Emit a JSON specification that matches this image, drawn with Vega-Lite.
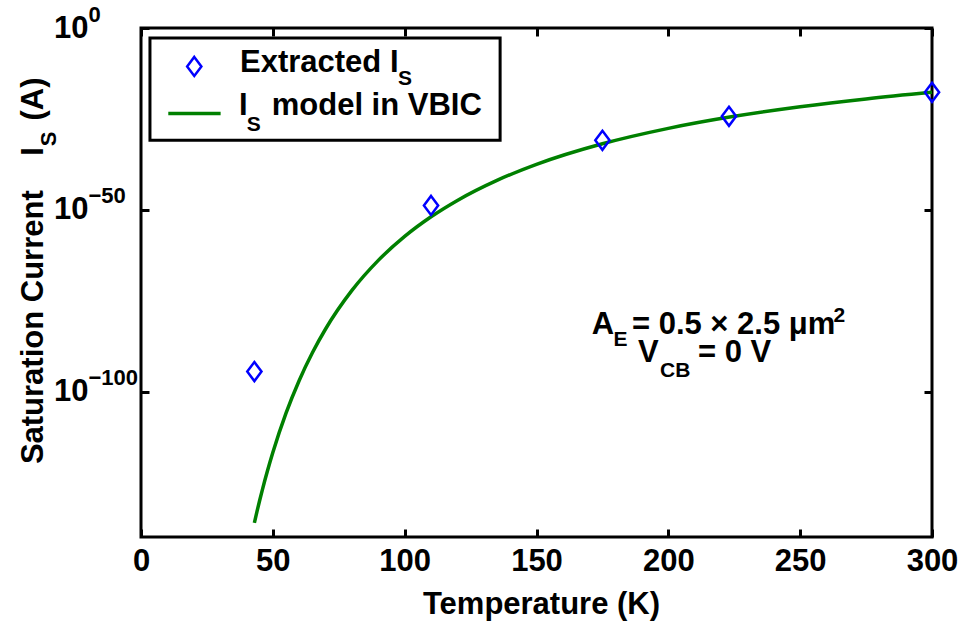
{
  "$schema": "https://vega.github.io/schema/vega-lite/v6.json",
  "width": 791,
  "height": 509,
  "autosize": {"type": "none"},
  "padding": {"left": 141, "top": 28, "right": 31, "bottom": 97},
  "background": "white",
  "config": {
    "view": {"stroke": "black", "strokeWidth": 3},
    "font": "Liberation Sans",
    "axis": {
      "grid": false,
      "domain": false,
      "ticks": true,
      "tickColor": "black",
      "tickWidth": 3,
      "tickSize": -8,
      "labelFlush": false,
      "labelOverlap": false,
      "labelFont": "Liberation Sans",
      "labelFontWeight": "bold",
      "labelFontSize": 31,
      "labelColor": "black",
      "titleFont": "Liberation Sans",
      "titleFontWeight": "bold",
      "titleFontSize": 31,
      "titleColor": "black"
    }
  },
  "datasets": {
    "model": [
      {"T": 43, "Is": 7.94e-137},
      {"T": 44, "Is": 1.10e-133},
      {"T": 45, "Is": 1.10e-130},
      {"T": 46, "Is": 8.13e-128},
      {"T": 47, "Is": 4.57e-125},
      {"T": 48, "Is": 2.0e-122},
      {"T": 50, "Is": 1.78e-117},
      {"T": 55, "Is": 1.15e-106},
      {"T": 60, "Is": 1.15e-97},
      {"T": 65, "Is": 4.79e-90},
      {"T": 70, "Is": 1.62e-83},
      {"T": 80, "Is": 6.61e-73},
      {"T": 90, "Is": 1.20e-64},
      {"T": 100, "Is": 4.79e-58},
      {"T": 110, "Is": 1.20e-52},
      {"T": 120, "Is": 3.80e-48},
      {"T": 135, "Is": 1.23e-42},
      {"T": 150, "Is": 3.09e-38},
      {"T": 175, "Is": 1.41e-32},
      {"T": 200, "Is": 2.45e-28},
      {"T": 225, "Is": 5.01e-25},
      {"T": 250, "Is": 2.19e-22},
      {"T": 275, "Is": 3.16e-20},
      {"T": 300, "Is": 2.0e-18}
    ],
    "extracted": [
      {"T": 43, "Is": 3.16e-95},
      {"T": 110, "Is": 1.58e-49},
      {"T": 175, "Is": 1.26e-31},
      {"T": 223, "Is": 5.01e-25},
      {"T": 300, "Is": 2.0e-18}
    ],
    "legendBox": [
      {"T1": 3.4, "T2": 136.2, "I1": 1.74e-3, "I2": 1.35e-31}
    ],
    "legendLine": [
      {"T": 10.35, "Is": 3.16e-24},
      {"T": 30.2, "Is": 3.16e-24}
    ],
    "legendMarker": [
      {"T": 20.2, "Is": 2.75e-11}
    ],
    "notes": [
      {"T": 37.55, "Is": 9.1e-13, "text": "Extracted I"},
      {"T": 37.17, "Is": 1.05e-24, "text": "I"},
      {"T": 49.57, "Is": 1.05e-24, "text": "model in VBIC"},
      {"T": 170.93, "Is": 7.08e-85, "text": "A"},
      {"T": 186.2, "Is": 7.08e-85, "text": "= 0.5 × 2.5 μm"},
      {"T": 188.49, "Is": 1.05e-92, "text": "V"},
      {"T": 211.25, "Is": 1.05e-92, "text": "= 0 V"}
    ],
    "scripts": [
      {"T": 97.47, "Is": 1.95e-16, "text": "S"},
      {"T": 40.09, "Is": 4.9e-29, "text": "S"},
      {"T": 179.2, "Is": 4.17e-88, "text": "E"},
      {"T": 262.6, "Is": 1.12e-81, "text": "2"},
      {"T": 196.84, "Is": 1.2e-96, "text": "CB"}
    ]
  },
  "layer": [
    {
      "data": {"name": "model"},
      "mark": {"type": "line", "color": "#008000", "strokeWidth": 3.5, "interpolate": "monotone"},
      "encoding": {
        "x": {
          "field": "T", "type": "quantitative",
          "scale": {"domain": [0, 300], "nice": false, "zero": false},
          "axis": {
            "orient": "bottom",
            "values": [0, 50, 100, 150, 200, 250, 300],
            "labelPadding": 17,
            "labelBaseline": "top",
            "title": "Temperature (K)",
            "titleX": 400,
            "titleY": 76,
            "titleAlign": "center",
            "titleBaseline": "alphabetic"
          }
        },
        "y": {
          "field": "Is", "type": "quantitative",
          "scale": {"type": "log", "domain": [1e-140, 1], "nice": false},
          "axis": {
            "orient": "left",
            "values": [1e-100, 1e-50, 1],
            "labelExpr": "'10'",
            "labelPadding": 61,
            "labelAlign": "right",
            "labelBaseline": "middle",
            "title": "Saturation Current\u00a0\u00a0\u00a0\u00a0I",
            "titleAngle": 270,
            "titleAlign": "right",
            "titleBaseline": "alphabetic",
            "titleX": -99,
            "titleY": 118.7
          }
        }
      }
    },
    {
      "data": {"name": "extracted"},
      "mark": {"type": "point", "shape": "M0,-1L0.75,0L0,1L-0.75,0Z", "filled": false, "stroke": "#0000FF", "strokeWidth": 2.5, "size": 361, "opacity": 1},
      "encoding": {
        "x": {
          "field": "T", "type": "quantitative",
          "scale": {"domain": [0, 300], "nice": false, "zero": false},
          "axis": {"orient": "top", "values": [0, 50, 100, 150, 200, 250, 300], "labels": false, "title": null}
        },
        "y": {
          "field": "Is", "type": "quantitative",
          "scale": {"type": "log", "domain": [1e-140, 1], "nice": false},
          "axis": {
            "orient": "right",
            "values": [1e-100, 1e-50, 1],
            "labels": false,
            "title": "(A)",
            "titleAngle": 270,
            "titleAlign": "left",
            "titleBaseline": "alphabetic",
            "titleX": -890,
            "titleY": 92
          }
        }
      }
    },
    {
      "data": {"name": "legendBox"},
      "mark": {"type": "rect", "fill": "white", "stroke": "black", "strokeWidth": 3},
      "encoding": {
        "x": {"field": "T1", "type": "quantitative", "scale": {"domain": [0, 300], "nice": false, "zero": false}, "axis": null},
        "x2": {"field": "T2"},
        "y": {"field": "I1", "type": "quantitative", "scale": {"type": "log", "domain": [1e-140, 1], "nice": false}, "axis": null},
        "y2": {"field": "I2"}
      }
    },
    {
      "data": {"name": "legendLine"},
      "mark": {"type": "line", "color": "#008000", "strokeWidth": 3.5},
      "encoding": {
        "x": {"field": "T", "type": "quantitative", "scale": {"domain": [0, 300], "nice": false, "zero": false}, "axis": null},
        "y": {"field": "Is", "type": "quantitative", "scale": {"type": "log", "domain": [1e-140, 1], "nice": false}, "axis": null}
      }
    },
    {
      "data": {"name": "legendMarker"},
      "mark": {"type": "point", "shape": "M0,-1L0.75,0L0,1L-0.75,0Z", "filled": false, "stroke": "#0000FF", "strokeWidth": 2.5, "size": 361, "opacity": 1},
      "encoding": {
        "x": {"field": "T", "type": "quantitative", "scale": {"domain": [0, 300], "nice": false, "zero": false}, "axis": null},
        "y": {"field": "Is", "type": "quantitative", "scale": {"type": "log", "domain": [1e-140, 1], "nice": false}, "axis": null}
      }
    },
    {
      "data": {"name": "notes"},
      "mark": {"type": "text", "font": "Liberation Sans", "fontWeight": "bold", "fontSize": 31, "color": "black", "align": "left", "baseline": "alphabetic"},
      "encoding": {
        "x": {"field": "T", "type": "quantitative", "scale": {"domain": [0, 300], "nice": false, "zero": false}, "axis": null},
        "y": {
          "field": "Is", "type": "quantitative",
          "scale": {"type": "log", "domain": [1e-140, 1], "nice": false},
          "axis": {
            "orient": "left",
            "values": [1e-100, 1e-50, 1],
            "ticks": false,
            "labelExpr": "datum.value >= 0.5 ? '0' : (datum.value > 1e-75 ? '−50' : '−100')",
            "labelFontSize": 22,
            "labelPadding": 53,
            "labelAlign": "left",
            "labelBaseline": "middle",
            "labelOffset": -14,
            "title": "S",
            "titleFontSize": 22,
            "titleAngle": 270,
            "titleAlign": "left",
            "titleBaseline": "alphabetic",
            "titleX": -86,
            "titleY": 117.7
          }
        },
        "text": {"field": "text"}
      }
    },
    {
      "data": {"name": "scripts"},
      "mark": {"type": "text", "font": "Liberation Sans", "fontWeight": "bold", "fontSize": 21, "color": "black", "align": "left", "baseline": "alphabetic"},
      "encoding": {
        "x": {"field": "T", "type": "quantitative", "scale": {"domain": [0, 300], "nice": false, "zero": false}, "axis": null},
        "y": {"field": "Is", "type": "quantitative", "scale": {"type": "log", "domain": [1e-140, 1], "nice": false}, "axis": null},
        "text": {"field": "text"}
      }
    }
  ],
  "resolve": {"axis": {"x": "independent", "y": "independent"}}
}
